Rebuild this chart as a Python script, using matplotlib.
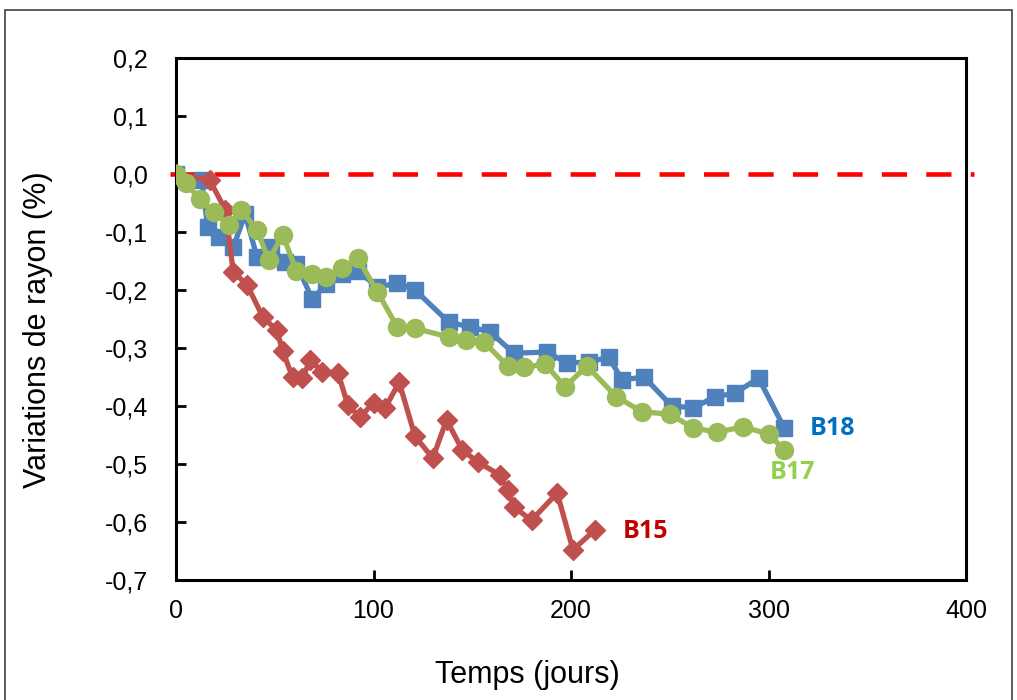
import matplotlib
matplotlib.use("Agg")
import matplotlib.pyplot as plt
from matplotlib.patches import Rectangle

# B18 (blue squares)
b18_t = [0, 13, 16, 22, 29, 35, 41, 48, 55, 61, 69, 76, 84, 92, 102, 112, 121,
         138, 149, 159, 171, 188, 198, 209, 219, 226, 237, 251, 262, 273, 283, 295, 308]
b18_v = [0, -0.010, -0.091, -0.109, -0.126, -0.069, -0.143, -0.126, -0.152, -0.155,
         -0.216, -0.190, -0.172, -0.167, -0.195, -0.188, -0.200, -0.255, -0.264,
         -0.272, -0.309, -0.307, -0.326, -0.324, -0.316, -0.355, -0.350, -0.400,
         -0.403, -0.384, -0.378, -0.352, -0.438]

# B17 (green circles)
b17_t = [0, 5, 12, 19, 27, 33, 41, 47, 54, 61, 69, 76, 84, 92, 102, 112, 121,
         138, 147, 156, 168, 176, 187, 197, 208, 223, 236, 250, 262, 274, 287, 300, 308]
b17_v = [0, -0.016, -0.043, -0.066, -0.088, -0.062, -0.097, -0.148, -0.105, -0.167,
         -0.172, -0.178, -0.162, -0.145, -0.203, -0.264, -0.266, -0.281, -0.286,
         -0.290, -0.331, -0.333, -0.328, -0.367, -0.331, -0.384, -0.410, -0.414,
         -0.438, -0.445, -0.436, -0.448, -0.476]

# B15 (red diamonds)
b15_t = [0, 17, 25, 29, 36, 44, 51, 54, 59, 64, 68, 74, 82, 87, 93, 100, 106,
         113, 121, 130, 137, 145, 153, 164, 168, 171, 180, 193, 201, 212]
b15_v = [0, -0.010, -0.062, -0.169, -0.191, -0.247, -0.269, -0.305, -0.350, -0.352,
         -0.321, -0.341, -0.343, -0.398, -0.419, -0.395, -0.403, -0.359, -0.452,
         -0.490, -0.424, -0.476, -0.497, -0.519, -0.545, -0.574, -0.597, -0.550,
         -0.648, -0.614]

xticks = [0, 100, 200, 300, 400]
yticks = [0.2, 0.1, 0.0, -0.1, -0.2, -0.3, -0.4, -0.5, -0.6, -0.7]

plt.rcParams['font.family'] = ['Liberation Sans', 'DejaVu Sans']
lab_font = ['Open Sans', 'DejaVu Sans']

fig = plt.figure(figsize=(10.17, 7), dpi=100)
ax = fig.add_axes([176/1017, 1-580/700, (966-176)/1017, (580-58)/700])

ax.plot([-3, 404], [0, 0], color='#FF0000', lw=3.3, dashes=(5.5, 4.2), zorder=2,
        clip_on=False)
ax.plot(b18_t, b18_v, color='#4F81BD', lw=3.8, marker='s', ms=12, zorder=3)
ax.plot(b15_t, b15_v, color='#C0504D', lw=3.8, marker='D', ms=10.5, zorder=3)
ax.plot(b17_t, b17_v, color='#9BBB59', lw=3.8, marker='o', ms=13, zorder=4)

ax.text(321, -0.438, 'B18', color='#0070C0', fontsize=18, fontweight='bold',
        family=lab_font, va='center', ha='left')
ax.text(312, -0.514, 'B17', color='#92D050', fontsize=18, fontweight='bold',
        family=lab_font, va='center', ha='center')
ax.text(237.5, -0.617, 'B15', color='#C00000', fontsize=18, fontweight='bold',
        family=lab_font, va='center', ha='center')

ax.set_xlim(0, 400)
ax.set_ylim(-0.7, 0.2)
ax.set_xticks(xticks)
ax.set_xticklabels([str(v) for v in xticks])
ax.set_yticks(yticks)
ax.set_yticklabels([('%.1f' % v).replace('.', ',') for v in yticks])
ax.tick_params(direction='in', length=7, width=2, labelsize=18)
ax.tick_params(axis='x', pad=14)
ax.tick_params(axis='y', pad=20)
for s in ax.spines.values():
    s.set_linewidth(2.2)

fig.text(527/1017, 1-675/700, 'Temps (jours)', fontsize=22, ha='center', va='center')
fig.text(38/1017, 1-330/700, 'Variations de rayon (%)', fontsize=22,
         ha='center', va='center', rotation=90)

fig.patches.append(Rectangle((5/1017, -0.05), 1007/1017, 1.05-10/700,
                             transform=fig.transFigure, fill=False,
                             edgecolor='#404040', lw=1.2))

fig.savefig('out.png', dpi=100)
